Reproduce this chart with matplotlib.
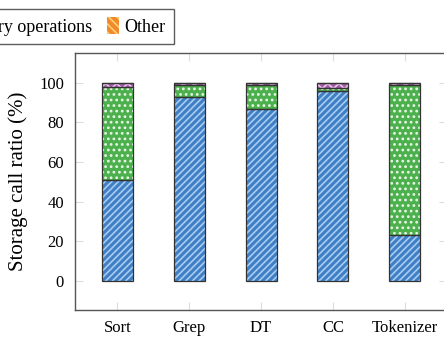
import matplotlib.pyplot as plt
import numpy as np

plt.rcParams['font.family'] = ['Liberation Serif', 'DejaVu Serif']
plt.rcParams['hatch.linewidth'] = 1.2

# Workloads and share of each kind of storage call (%)
workloads = ['Sort', 'Grep', 'DT', 'CC', 'Tokenizer']
file_io = [51, 93, 87, 96, 23]
metadata = [47, 6, 12, 1.5, 76]
directory_ops = [2, 1, 1, 2.5, 1]
other = [0, 0, 0, 0, 0]

series = [
    ('File I/O', file_io, '#3f7fc6', '#a9cdf0', '/////'),
    ('Metadata', metadata, '#4cb04c', '#e8f5e8', '...'),
    ('Directory operations', directory_ops, '#a35ca8', '#f0c8f0', 'xxx'),
    ('Other', other, '#f28a2a', '#ffd27a', '\\\\\\\\'),
]

fig = plt.figure(figsize=(4.44, 3.39), dpi=100)
ax = fig.add_axes([0.169, 0.0855, 0.838, 0.758])

x = np.arange(len(workloads))
width = 0.43
bottom = np.zeros(len(workloads))
handles = []
for label, vals, face, hatch_col, hatch in series:
    vals = np.array(vals, dtype=float)
    # hatch drawn in a light tone, outline drawn on top in dark grey
    h = ax.bar(x, vals, width, bottom=bottom, color=face, edgecolor=hatch_col,
               hatch=hatch, linewidth=0, label=label, zorder=2)
    ax.bar(x, vals, width, bottom=bottom, fill=False, edgecolor='#333333',
           linewidth=0.9, zorder=3)
    handles.append(h)
    bottom += vals

ax.set_xlim(-0.59, 4.59)
ax.set_ylim(-14.6, 115)
ax.set_xticks(x)
ax.set_xticklabels(workloads)
ax.set_yticks([0, 20, 40, 60, 80, 100])
ax.tick_params(direction='in', length=6, color='#dddddd', labelsize=12,
               top=True, right=True, pad=8)
ax.tick_params(axis='x', pad=7)
for s in ax.spines.values():
    s.set_color('#555555')
    s.set_linewidth(1.0)
ax.set_ylabel('Storage call ratio (%)', fontsize=15, labelpad=8)

fig.legend(handles=handles, loc='upper right', bbox_to_anchor=(0.412, 1.0),
           ncol=4, fontsize=13, frameon=True, fancybox=False,
           edgecolor='#333333', handlelength=0.7, handleheight=1.1,
           handletextpad=0.3, columnspacing=0.8, borderpad=0.45)

fig.savefig('out.png', dpi=100)
